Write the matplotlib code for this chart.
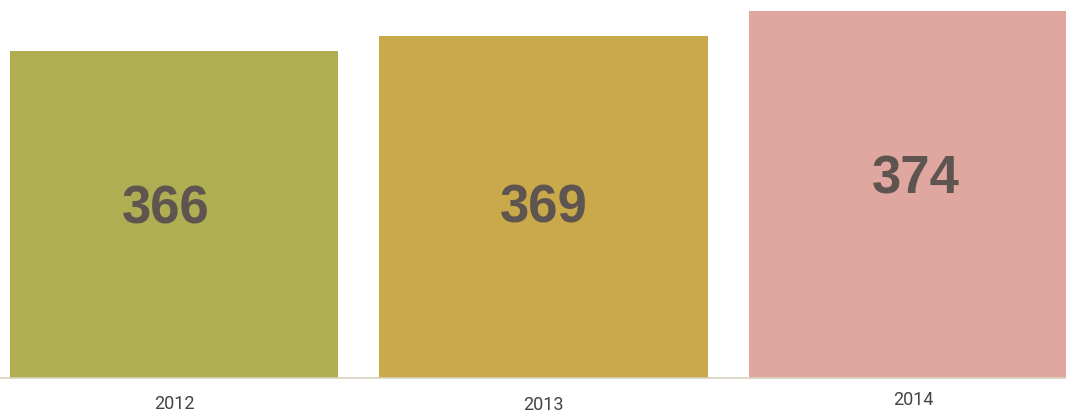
import matplotlib
matplotlib.use("Agg")
import matplotlib.pyplot as plt
from matplotlib import transforms

years = ["2012", "2013", "2014"]
values = [366, 369, 374]
colors = ["#b0ae52", "#caa94a", "#e0a7a0"]

# style: small per-label nudges (pixels) seen in reference
value_label_dy = [4.5, -2, 15]
value_label_dx = [-8, 0, 3]
year_label_dy = [-1, -1.5, 3.5]

BASE = 300
TOP = 376.3

W, H = 1066, 413
fig = plt.figure(figsize=(W / 100, H / 100), dpi=100)
ax = fig.add_axes([0, (H - 377.5) / H, 1, 377.5 / H])

x = list(range(len(years)))
ax.bar(x, values, width=0.888, color=colors, zorder=2)
ax.set_xlim(-174 / 369.5, (1066 - 174) / 369.5)
ax.set_ylim(BASE, TOP)

for s in ["top", "right", "left"]:
    ax.spines[s].set_visible(False)
ax.spines["bottom"].set_color("#d8d1bc")
ax.spines["bottom"].set_linewidth(1.2)
ax.set_yticks([])
ax.set_xticks(x)
ax.set_xticklabels(years)
ax.tick_params(axis="x", length=0, pad=12, labelsize=13, labelcolor="#444444")
for lbl, dy in zip(ax.get_xticklabels(), year_label_dy):
    lbl.set_fontfamily("Roboto")
    lbl.set_transform(lbl.get_transform() + transforms.ScaledTranslation(0, dy / 100, fig.dpi_scale_trans))

for xi, v, dx, dy in zip(x, values, value_label_dx, value_label_dy):
    mid = (BASE + v) / 2
    ax.text(xi, mid, str(v), ha="center", va="center", fontsize=38, fontweight="bold",
            family="Liberation Sans", color="#5e5550", zorder=3,
            transform=ax.transData + transforms.ScaledTranslation(dx / 100, dy / 100, fig.dpi_scale_trans))

fig.savefig("out.png", dpi=100)
